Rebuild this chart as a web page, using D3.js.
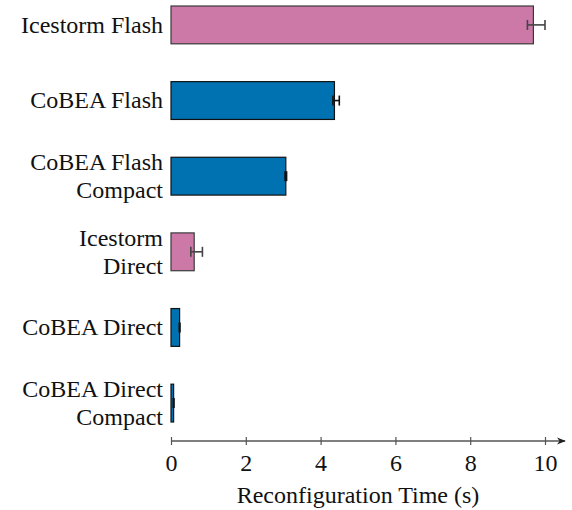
<!DOCTYPE html>
<html>
<head>
<meta charset="utf-8">
<script src="https://cdn.jsdelivr.net/npm/d3@7"></script>
<style>
  body { margin: 0; background: #fff; }
</style>
</head>
<body>
<script>
// data
var categories = ["Icestorm Flash", "CoBEA Flash", "CoBEA Flash\nCompact", "Icestorm\nDirect", "CoBEA Direct", "CoBEA Direct\nCompact"];
var times = [9.69, 4.37, 3.07, 0.62, 0.23, 0.07];
var errLow = [9.53, 4.33, 3.05, 0.53, 0.22, 0.06];
var errHigh = [10.0, 4.50, 3.09, 0.84, 0.24, 0.08];
var tool = ["Icestorm", "CoBEA", "CoBEA", "Icestorm", "CoBEA", "CoBEA"];
var xTicks = [0, 2, 4, 6, 8, 10];
var xTitle = "Reconfiguration Time (s)";

var colors = { Icestorm: "#CC79A7", CoBEA: "#0072B2" };
var strokes = { Icestorm: "#3a3a3a", CoBEA: "#111" };
var FONT = "'Liberation Serif', 'DejaVu Serif', serif";
var FS = 24;

var W = 572, H = 510;
var svg = d3.select("body").append("svg")
  .attr("width", W)
  .attr("height", H);

var x = d3.scaleLinear().domain([0, 10]).range([171, 545]);
var y = d3.scaleBand().domain(categories).range([6, 422]).paddingInner(0.5).paddingOuter(0);

var rows = categories.map(function(c, i) {
  return { cat: c, v: times[i], lo: errLow[i], hi: errHigh[i], tool: tool[i] };
});

// bars
svg.selectAll("rect.bar")
  .data(rows)
  .enter()
  .append("rect")
  .attr("class", "bar")
  .attr("x", x(0))
  .attr("y", function(d) { return y(d.cat); })
  .attr("width", function(d) { return x(d.v) - x(0); })
  .attr("height", y.bandwidth())
  .attr("fill", function(d) { return colors[d.tool]; })
  .attr("stroke", function(d) { return strokes[d.tool]; })
  .attr("stroke-width", 1.2);

// error bars
var eb = svg.selectAll("g.err")
  .data(rows)
  .enter()
  .append("g")
  .attr("class", "err")
  .attr("stroke", function(d) { return d.tool == "Icestorm" ? "#444" : "#111"; })
  .attr("stroke-width", 1.6);
eb.append("line")
  .attr("x1", function(d) { return x(d.lo); })
  .attr("x2", function(d) { return x(d.hi); })
  .attr("y1", function(d) { return y(d.cat) + y.bandwidth() / 2; })
  .attr("y2", function(d) { return y(d.cat) + y.bandwidth() / 2; });
["lo", "hi"].forEach(function(k) {
  eb.append("line")
    .attr("x1", function(d) { return x(d[k]); })
    .attr("x2", function(d) { return x(d[k]); })
    .attr("y1", function(d) { return y(d.cat) + y.bandwidth() / 2 - 5; })
    .attr("y2", function(d) { return y(d.cat) + y.bandwidth() / 2 + 5; });
});

// category labels
var lab = svg.selectAll("text.cat")
  .data(rows)
  .enter()
  .append("text")
  .attr("class", "cat")
  .attr("text-anchor", "end")
  .style("font-family", FONT)
  .style("font-size", FS + "px")
  .attr("fill", "#111")
  .attr("x", 163)
  .attr("y", function(d) { return y(d.cat) + y.bandwidth() / 2; });
lab.each(function(d) {
  var lines = d.cat.split("\n");
  var t = d3.select(this);
  lines.forEach(function(s, j) {
    t.append("tspan")
      .attr("x", 163)
      .attr("y", y(d.cat) + y.bandwidth() / 2 + (j - (lines.length - 1) / 2) * 28)
      .attr("dy", "0.33em")
      .text(s);
  });
});

// x axis
var axisY = 441;
var ax = svg.append("g")
  .attr("transform", "translate(0," + axisY + ")")
  .call(d3.axisBottom(x).tickValues(xTicks).tickSize(7).tickPadding(6));
ax.select(".domain").remove();
ax.selectAll(".tick line").attr("y1", -4).attr("y2", 4).attr("stroke", "#555").attr("stroke-width", 1.2);
ax.selectAll(".tick text")
  .style("font-family", FONT)
  .style("font-size", FS + "px")
  .attr("fill", "#111");

svg.append("defs").append("marker")
  .attr("id", "arr")
  .attr("viewBox", "0 0 10 10")
  .attr("refX", 9).attr("refY", 5)
  .attr("markerWidth", 7).attr("markerHeight", 7)
  .attr("orient", "auto")
  .append("path")
  .attr("d", "M0,1 L10,5 L0,9 L3,5 Z")
  .attr("fill", "#222");

svg.append("line")
  .attr("x1", x(0)).attr("x2", 565)
  .attr("y1", axisY).attr("y2", axisY)
  .attr("stroke", "#555").attr("stroke-width", 1.3)
  .attr("marker-end", "url(#arr)");

svg.append("text")
  .attr("x", 358)
  .attr("y", 495.5)
  .attr("text-anchor", "middle")
  .attr("dy", "0.33em")
  .style("font-family", FONT)
  .style("font-size", FS + "px")
  .attr("fill", "#111")
  .text(xTitle);
</script>
</body>
</html>
